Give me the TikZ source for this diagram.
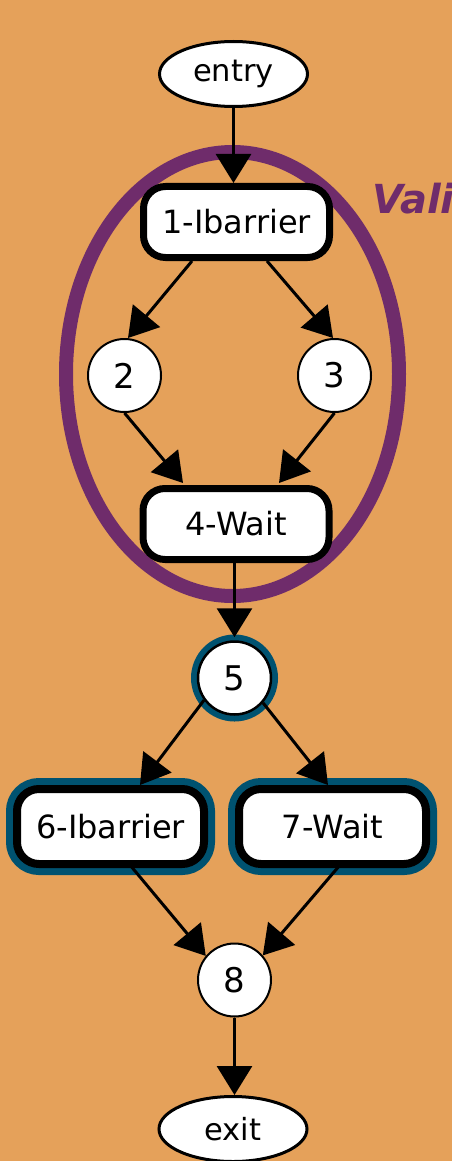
\documentclass[tikz,border=0pt]{standalone}
\usepackage{fontspec}
\setmainfont{DejaVu Sans}
\usetikzlibrary{shapes.geometric,arrows.meta}
\definecolor{bgorange}{RGB}{229,161,90}
\definecolor{regionpurple}{RGB}{111,44,107}
\definecolor{ringteal}{RGB}{0,82,112}
\begin{document}
\begin{tikzpicture}[x=1pt,y=-1pt,
  lbl/.style={font=\fontsize{32}{38}\selectfont},
  terminal/.style={ellipse, draw, line width=3pt, fill=white, minimum width=148pt,
    minimum height=65pt, inner sep=0pt, font=\fontsize{30.5}{36}\selectfont},
  blockbox/.style={rectangle, rounded corners=22pt, draw, line width=7pt, fill=white,
    minimum width=186pt, minimum height=71pt, inner sep=0pt, lbl},
  ringedbox/.style={blockbox, line width=8pt, minimum width=187pt, minimum height=75pt,
    preaction={draw=ringteal, line width=22pt}},
  plain/.style={circle, draw, line width=2pt, fill=white, minimum size=73pt,
    inner sep=0pt, font=\fontsize{34}{40}\selectfont},
  ringed/.style={plain, line width=2.5pt, preaction={draw=ringteal, line width=14pt}},
  flow/.style={line width=3pt, -{Triangle[length=29pt,width=35pt]}}
]
\useasboundingbox (0,0) rectangle (452,1161);
\fill[bgorange] (0,0) rectangle (452,1161);
\clip (0,0) rectangle (452,1161);

% region outline and its caption
\draw[regionpurple, line width=14pt] (232.5,374) ellipse [x radius=166.5pt, y radius=222pt];
\node[anchor=base west, text=regionpurple, inner sep=0pt,
  font=\fontsize{40}{48}\selectfont\bfseries\itshape] (regionlabel) at (372,214) {Vali};

% graph nodes
\node[terminal] (entry) at (233.5,74) {entry};
\node[blockbox] (n1) at (236.5,222) {1-Ibarrier};
\node[plain] (n2) at (124.5,375.5) {2};
\node[plain] (n3) at (334.5,375.5) {3};
\node[blockbox] (n4) at (236,524) {4-Wait};
\node[ringed] (n5) at (234.5,678) {5};
\node[ringedbox] (n6) at (110.5,826.5) {6-Ibarrier};
\node[ringedbox] (n7) at (332.5,826.5) {7-Wait};
\node[plain] (n8) at (234.5,980) {8};
\node[terminal] (exit) at (233,1129) {exit};

% control-flow edges
\draw[flow] (entry.south) -- (entry.south |- n1.north);
\draw[flow] ([xshift=-44.5pt]n1.south) -- ([xshift=3.5pt]n2.north);
\draw[flow] ([xshift=30.5pt]n1.south) -- ([xshift=-1.5pt]n3.north);
\draw[flow] (n2.south) -- ([xshift=-53pt,yshift=2pt]n4.north);
\draw[flow] (n3.south) -- ([xshift=43pt,yshift=2pt]n4.north);
\draw[flow] (n4.south -| n5.north) -- ([yshift=3pt]n5.north);
\draw[flow] (n5.216) -- ([xshift=29.5pt]n6.north);
\draw[flow] (n5.-41) -- ([xshift=-4.5pt]n7.north);
\draw[flow] ([xshift=19.5pt,yshift=3pt]n6.south) -- (n8.140);
\draw[flow] ([xshift=7.5pt,yshift=3pt]n7.south) -- (n8.41);
\draw[flow] (n8.south) -- (n8.south |- exit.north);
\end{tikzpicture}
\end{document}
